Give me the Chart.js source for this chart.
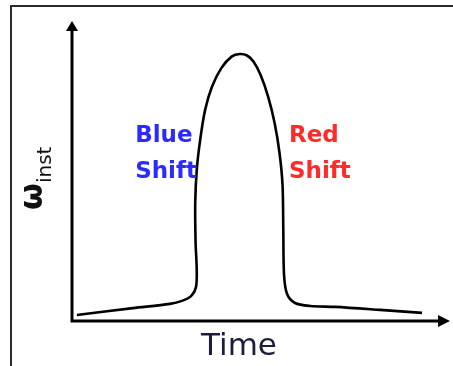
<!DOCTYPE html>
<html>
<head>
<meta charset="utf-8">
<script src="https://cdn.jsdelivr.net/npm/chart.js@4"></script>
<style>
  html, body { margin: 0; padding: 0; background: #fff; overflow: hidden; }
  #wrap { position: relative; width: 453px; height: 366px; }
</style>
</head>
<body>
<div id="wrap"><canvas id="chart" width="453" height="366"></canvas></div>
<script>
// Instantaneous frequency of a pulse vs time (schematic)
const timeValues = [1.3, 16.1, 25.9, 29.1, 31.5, 32.8, 33.0, 32.7, 32.6, 33.0, 33.9, 35.2, 37.0, 39.5, 42.3, 44.4,
                    46.3, 48.0, 49.9, 51.9, 53.6, 54.9, 55.7, 55.9, 56.1, 56.9, 59.0, 63.0, 69.6, 81.5, 92.6];
const omegaValues = [2.0, 4.3, 5.7, 6.7, 8.3, 11.3, 17.0, 26.0, 39.3, 50.3, 60.3, 70.3, 78.0, 84.3, 88.2, 89.0,
                     88.5, 86.5, 82.0, 74.7, 66.0, 56.0, 45.3, 30.3, 15.3, 9.0, 6.0, 5.0, 4.7, 3.7, 2.7];

const xTitle = 'Time';
const yTitleMain = 'ω';
const yTitleSub = 'inst';
const shiftLabels = [
    { lines: ['Blue', 'Shift'], x: 16.7, color: '#2b2bff' },
    { lines: ['Red', 'Shift'], x: 57.4, color: '#ff2b2b' }
];
const shiftBaselines = [59.7, 47.7];

// Axes with arrows, frame and text labels
const decorPlugin = {
    id: 'decor',
    afterDraw(chart) {
        const ctx = chart.ctx;
        const xs = chart.scales.x;
        const ys = chart.scales.y;
        const x0 = xs.getPixelForValue(0);
        const x1 = xs.getPixelForValue(100);
        const y0 = ys.getPixelForValue(0);
        const y1 = ys.getPixelForValue(100);

        ctx.save();

        // frame
        ctx.strokeStyle = '#2a2a2a';
        ctx.lineWidth = 2;
        ctx.beginPath();
        ctx.moveTo(11, 366);
        ctx.lineTo(11, 6);
        ctx.lineTo(453, 6);
        ctx.stroke();

        // axes
        ctx.strokeStyle = '#000';
        ctx.fillStyle = '#000';
        ctx.lineWidth = 3;
        ctx.beginPath();
        ctx.moveTo(x0, y1 + 8);
        ctx.lineTo(x0, y0);
        ctx.lineTo(x1 - 10, y0);
        ctx.stroke();

        // arrow heads
        ctx.beginPath();
        ctx.moveTo(x0, y1);
        ctx.lineTo(x0 - 6, y1 + 10);
        ctx.lineTo(x0 + 6, y1 + 10);
        ctx.closePath();
        ctx.fill();
        ctx.beginPath();
        ctx.moveTo(x1, y0);
        ctx.lineTo(x1 - 12, y0 - 6);
        ctx.lineTo(x1 - 12, y0 + 6);
        ctx.closePath();
        ctx.fill();

        // shift labels
        ctx.font = 'bold 23px "DejaVu Sans"';
        ctx.textAlign = 'left';
        ctx.textBaseline = 'alphabetic';
        shiftLabels.forEach(lbl => {
            ctx.fillStyle = lbl.color;
            lbl.lines.forEach((t, i) => {
                ctx.fillText(t, xs.getPixelForValue(lbl.x), ys.getPixelForValue(shiftBaselines[i]));
            });
        });

        // x title
        ctx.fillStyle = '#1c1c3c';
        ctx.font = '31px "DejaVu Sans"';
        ctx.textAlign = 'center';
        ctx.fillText(xTitle, 239, 355);

        // y title, rotated
        ctx.translate(42, 210);
        ctx.rotate(-Math.PI / 2);
        ctx.textAlign = 'left';
        ctx.fillStyle = '#111';
        ctx.font = 'bold 31px "DejaVu Sans"';
        ctx.fillText(yTitleMain, 0, 0);
        const w = ctx.measureText(yTitleMain).width;
        ctx.font = '20px "DejaVu Sans"';
        ctx.fillText(yTitleSub, w, 9);

        ctx.restore();
    }
};

new Chart(document.getElementById('chart'), {
    type: 'line',
    data: {
        datasets: [{
            data: timeValues.map((t, i) => ({ x: t, y: omegaValues[i] })),
            borderColor: '#000',
            borderWidth: 2.6,
            pointRadius: 0,
            tension: 0.3,
            fill: false
        }]
    },
    options: {
        responsive: false,
        animation: false,
        layout: { padding: { left: 72, right: 3, top: 21, bottom: 45 } },
        plugins: {
            legend: { display: false },
            tooltip: { enabled: false }
        },
        scales: {
            x: { type: 'linear', min: 0, max: 100, display: false },
            y: { type: 'linear', min: 0, max: 100, display: false }
        }
    },
    plugins: [decorPlugin]
});
</script>
</body>
</html>
